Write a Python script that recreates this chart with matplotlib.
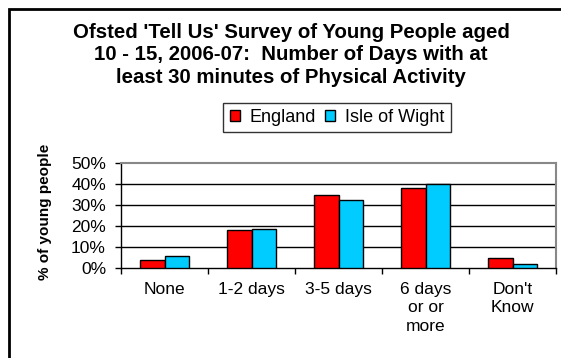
import numpy as np
import matplotlib
matplotlib.use("Agg")
import matplotlib.pyplot as plt
from matplotlib.patches import Rectangle

plt.rcParams['font.family'] = ['Liberation Sans', 'DejaVu Sans']

# data
categories = ["None", "1-2 days", "3-5 days", "6 days\nor or\nmore", "Don't\nKnow"]
england = [4.0, 17.9, 34.8, 37.9, 4.6]
wight = [5.9, 18.7, 32.5, 39.8, 1.9]
series_names = ["England", "Isle of Wight"]
yticks = [0, 10, 20, 30, 40, 50]

W, H = 561, 358
fig = plt.figure(figsize=(W / 100, H / 100), dpi=100)

# plot area in pixels: left 121, right 556, top 163, bottom 268
ax = fig.add_axes([121 / W, 1 - 268 / H, (556 - 121) / W, (268 - 163) / H])

x = np.arange(len(categories))
bw = 2 / 7
ax.bar(x - bw / 2, england, bw, color='#ff0000', edgecolor='black', linewidth=1, label=series_names[0], zorder=3)
ax.bar(x + bw / 2, wight, bw, color='#00ccff', edgecolor='black', linewidth=1, label=series_names[1], zorder=3)

ax.set_xlim(-0.5, len(categories) - 0.5)
ax.set_ylim(0, 50)
ax.set_yticks(yticks)
ax.set_yticklabels([f"{v}%" for v in yticks], fontsize=12.5)
for v in yticks[1:-1]:
    ax.axhline(v, color='black', linewidth=1, zorder=1)

ax.set_xticks(x)
ax.set_xticklabels(categories, fontsize=12.5, linespacing=1.3, va='top')
ax.tick_params(axis='x', which='major', length=0, pad=10)
ax.set_xticks(np.arange(-0.5, len(categories), 1), minor=True)
ax.tick_params(axis='x', which='minor', length=4, width=1, direction='out')
ax.tick_params(axis='y', length=4.3, width=1, direction='out', pad=6.5)

for side in ['top', 'right']:
    ax.spines[side].set_color('#888888')
    ax.spines[side].set_linewidth(1.5)
for side in ['left', 'bottom']:
    ax.spines[side].set_color('black')
    ax.spines[side].set_linewidth(1)

fig.text(291 / W, 1 - 55 / H,
         "Ofsted 'Tell Us' Survey of Young People aged\n10 - 15, 2006-07:  Number of Days with at\nleast 30 minutes of Physical Activity",
         ha='center', va='center', fontsize=14.7, fontweight='bold', linespacing=1.25)

fig.text(45 / W, 1 - 212 / H, "% of young people", rotation=90, ha='center', va='center',
         fontsize=11, fontweight='bold')

leg = ax.legend(loc='center', bbox_to_anchor=(337 / W, 1 - 117.5 / H), bbox_transform=fig.transFigure,
                ncol=2, fontsize=13, frameon=True, fancybox=False, edgecolor='black',
                handlelength=0.55, handleheight=0.55, handletextpad=0.55, columnspacing=0.5,
                borderpad=0.35, borderaxespad=0)
leg.get_frame().set_linewidth(1)

# outer chart frame (cut at the right and bottom edges)
fig.patches.append(Rectangle((9 / W, -0.05), 1.1, 1 - 9 / H + 0.05, transform=fig.transFigure,
                             fill=False, edgecolor='black', linewidth=2))

fig.savefig("out.png", dpi=100)
